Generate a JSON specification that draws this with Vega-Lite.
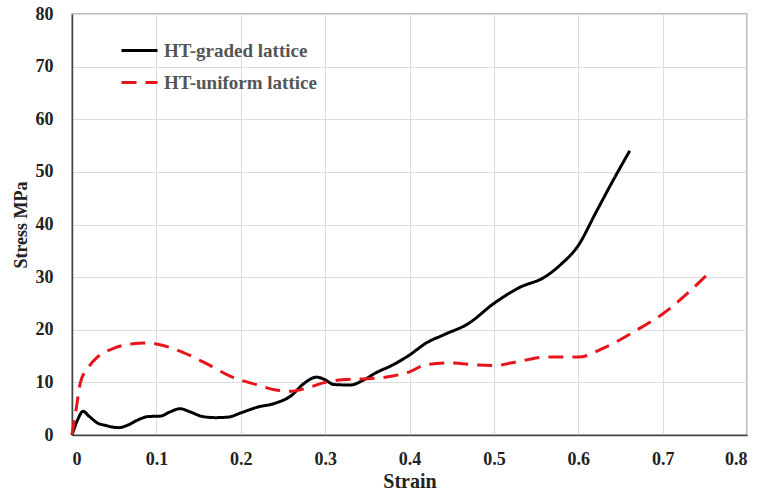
{
  "$schema": "https://vega.github.io/schema/vega-lite/v6.json",
  "width": 675,
  "height": 421,
  "autosize": {"type": "none"},
  "padding": {"left": 72, "top": 14, "right": 15, "bottom": 59},
  "background": "white",
  "config": {
    "view": {"stroke": "#a6a6a6", "strokeWidth": 1.5},
    "font": "Liberation Serif"
  },
  "data": {
    "values": [
      {"series": "HT-graded lattice", "strain": 0, "stress": 0},
      {"series": "HT-graded lattice", "strain": 0.007, "stress": 3.0},
      {"series": "HT-graded lattice", "strain": 0.013, "stress": 4.5},
      {"series": "HT-graded lattice", "strain": 0.02, "stress": 3.6},
      {"series": "HT-graded lattice", "strain": 0.03, "stress": 2.3},
      {"series": "HT-graded lattice", "strain": 0.04, "stress": 1.8},
      {"series": "HT-graded lattice", "strain": 0.055, "stress": 1.4},
      {"series": "HT-graded lattice", "strain": 0.065, "stress": 1.8},
      {"series": "HT-graded lattice", "strain": 0.08, "stress": 3.0},
      {"series": "HT-graded lattice", "strain": 0.09, "stress": 3.5},
      {"series": "HT-graded lattice", "strain": 0.105, "stress": 3.6},
      {"series": "HT-graded lattice", "strain": 0.115, "stress": 4.3},
      {"series": "HT-graded lattice", "strain": 0.128, "stress": 5.0},
      {"series": "HT-graded lattice", "strain": 0.14, "stress": 4.4},
      {"series": "HT-graded lattice", "strain": 0.155, "stress": 3.5},
      {"series": "HT-graded lattice", "strain": 0.17, "stress": 3.3},
      {"series": "HT-graded lattice", "strain": 0.185, "stress": 3.4},
      {"series": "HT-graded lattice", "strain": 0.2, "stress": 4.2},
      {"series": "HT-graded lattice", "strain": 0.22, "stress": 5.3},
      {"series": "HT-graded lattice", "strain": 0.24, "stress": 6.0},
      {"series": "HT-graded lattice", "strain": 0.26, "stress": 7.5},
      {"series": "HT-graded lattice", "strain": 0.275, "stress": 9.8},
      {"series": "HT-graded lattice", "strain": 0.29, "stress": 11.0},
      {"series": "HT-graded lattice", "strain": 0.3, "stress": 10.5},
      {"series": "HT-graded lattice", "strain": 0.31, "stress": 9.6},
      {"series": "HT-graded lattice", "strain": 0.33, "stress": 9.5},
      {"series": "HT-graded lattice", "strain": 0.345, "stress": 10.4},
      {"series": "HT-graded lattice", "strain": 0.36, "stress": 11.8},
      {"series": "HT-graded lattice", "strain": 0.38, "stress": 13.3},
      {"series": "HT-graded lattice", "strain": 0.4, "stress": 15.2},
      {"series": "HT-graded lattice", "strain": 0.42, "stress": 17.5},
      {"series": "HT-graded lattice", "strain": 0.44, "stress": 19.0},
      {"series": "HT-graded lattice", "strain": 0.47, "stress": 21.2},
      {"series": "HT-graded lattice", "strain": 0.5, "stress": 25.0},
      {"series": "HT-graded lattice", "strain": 0.53, "stress": 28.0},
      {"series": "HT-graded lattice", "strain": 0.56, "stress": 30.0},
      {"series": "HT-graded lattice", "strain": 0.58, "stress": 32.5},
      {"series": "HT-graded lattice", "strain": 0.6, "stress": 36.0},
      {"series": "HT-graded lattice", "strain": 0.62, "stress": 42.0},
      {"series": "HT-graded lattice", "strain": 0.64, "stress": 48.0},
      {"series": "HT-graded lattice", "strain": 0.661, "stress": 54.0},
      {"series": "HT-uniform lattice", "strain": 0, "stress": 0},
      {"series": "HT-uniform lattice", "strain": 0.005, "stress": 5.0},
      {"series": "HT-uniform lattice", "strain": 0.01, "stress": 10.0},
      {"series": "HT-uniform lattice", "strain": 0.02, "stress": 13.0},
      {"series": "HT-uniform lattice", "strain": 0.03, "stress": 14.8},
      {"series": "HT-uniform lattice", "strain": 0.05, "stress": 16.5},
      {"series": "HT-uniform lattice", "strain": 0.07, "stress": 17.3},
      {"series": "HT-uniform lattice", "strain": 0.09, "stress": 17.5},
      {"series": "HT-uniform lattice", "strain": 0.1, "stress": 17.3},
      {"series": "HT-uniform lattice", "strain": 0.13, "stress": 15.8},
      {"series": "HT-uniform lattice", "strain": 0.16, "stress": 13.5},
      {"series": "HT-uniform lattice", "strain": 0.19, "stress": 11.0},
      {"series": "HT-uniform lattice", "strain": 0.22, "stress": 9.5},
      {"series": "HT-uniform lattice", "strain": 0.24, "stress": 8.6},
      {"series": "HT-uniform lattice", "strain": 0.26, "stress": 8.3},
      {"series": "HT-uniform lattice", "strain": 0.28, "stress": 9.0},
      {"series": "HT-uniform lattice", "strain": 0.3, "stress": 10.0},
      {"series": "HT-uniform lattice", "strain": 0.32, "stress": 10.5},
      {"series": "HT-uniform lattice", "strain": 0.35, "stress": 10.7},
      {"series": "HT-uniform lattice", "strain": 0.38, "stress": 11.2},
      {"series": "HT-uniform lattice", "strain": 0.4, "stress": 12.0},
      {"series": "HT-uniform lattice", "strain": 0.42, "stress": 13.4},
      {"series": "HT-uniform lattice", "strain": 0.45, "stress": 13.7},
      {"series": "HT-uniform lattice", "strain": 0.48, "stress": 13.3},
      {"series": "HT-uniform lattice", "strain": 0.5, "stress": 13.2},
      {"series": "HT-uniform lattice", "strain": 0.53, "stress": 14.0},
      {"series": "HT-uniform lattice", "strain": 0.56, "stress": 14.8},
      {"series": "HT-uniform lattice", "strain": 0.6, "stress": 14.8},
      {"series": "HT-uniform lattice", "strain": 0.63, "stress": 16.5},
      {"series": "HT-uniform lattice", "strain": 0.67, "stress": 20.0},
      {"series": "HT-uniform lattice", "strain": 0.7, "stress": 23.0},
      {"series": "HT-uniform lattice", "strain": 0.73, "stress": 27.0},
      {"series": "HT-uniform lattice", "strain": 0.758, "stress": 31.3}
    ]
  },
  "mark": {"type": "line", "interpolate": "monotone", "strokeWidth": 3},
  "encoding": {
    "x": {
      "field": "strain", "type": "quantitative",
      "scale": {"domain": [0, 0.8], "nice": false},
      "axis": {
        "title": "Strain", "values": [0, 0.1, 0.2, 0.3, 0.4, 0.5, 0.6, 0.7, 0.8],
        "format": "~g",
        "titleFont": "Liberation Serif", "titleFontSize": 20, "titleFontWeight": "bold", "titleColor": "#222",
        "titlePadding": 3,
        "labelFont": "Liberation Serif", "labelFontSize": 18, "labelFontWeight": "bold", "labelColor": "#222",
        "labelPadding": 15, "ticks": false,
        "domainColor": "#444", "domainWidth": 1.5,
        "gridColor": "#dcdcdc", "gridWidth": 1
      }
    },
    "y": {
      "field": "stress", "type": "quantitative",
      "scale": {"domain": [0, 80], "nice": false},
      "axis": {
        "title": "Stress MPa", "values": [0, 10, 20, 30, 40, 50, 60, 70, 80],
        "titleFont": "Liberation Serif", "titleFontSize": 18, "titleFontWeight": "bold", "titleColor": "#222",
        "titlePadding": 5,
        "labelFont": "Liberation Serif", "labelFontSize": 18, "labelFontWeight": "bold", "labelColor": "#222",
        "labelPadding": 19, "ticks": false,
        "domainColor": "#444", "domainWidth": 1.5,
        "gridColor": "#dcdcdc", "gridWidth": 1
      }
    },
    "color": {
      "field": "series", "type": "nominal",
      "scale": {"domain": ["HT-graded lattice", "HT-uniform lattice"], "range": ["#000000", "#e8141b"]},
      "legend": {
        "title": null, "orient": "none", "legendX": 48, "legendY": 17,
        "symbolType": "stroke", "symbolSize": 1296, "symbolStrokeWidth": 3,
        "labelFont": "Liberation Serif", "labelFontSize": 19, "labelFontWeight": "bold", "labelColor": "#555",
        "rowPadding": 2, "labelOffset": 5
      }
    },
    "strokeDash": {
      "field": "series", "type": "nominal",
      "scale": {"domain": ["HT-graded lattice", "HT-uniform lattice"], "range": [[1, 0], [15, 9]]},
      "legend": null
    }
  }
}
